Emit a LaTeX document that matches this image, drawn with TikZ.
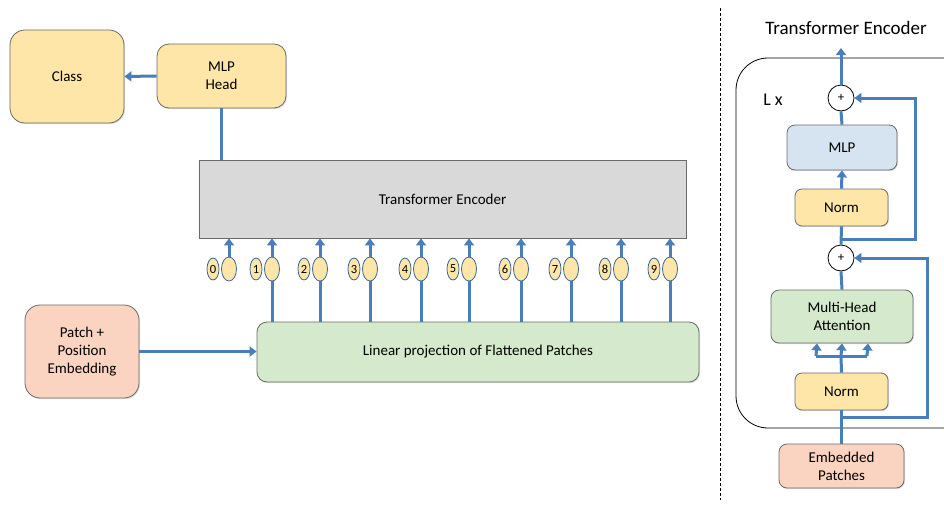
\documentclass[tikz,border=0pt]{standalone}
\usepackage{fontspec}
\setmainfont{Carlito}
\usetikzlibrary{arrows.meta,calc,positioning,shapes.geometric,shadows}

\definecolor{vityellow}{RGB}{253,230,168}
\definecolor{vitgreen}{RGB}{213,234,205}
\definecolor{vitsalmon}{RGB}{251,212,193}
\definecolor{vitgray}{RGB}{217,217,217}
\definecolor{vitblue}{RGB}{214,228,242}
\definecolor{vitline}{RGB}{105,105,105}
\definecolor{vitarrow}{RGB}{74,126,187}

\begin{document}
\begin{tikzpicture}[x=1pt,y=-1pt,
    every node/.style={font=\fontsize{15}{18}\selectfont, align=center, inner sep=0pt},
    box/.style={draw=vitline, line width=0.8pt, rounded corners=9pt,
        drop shadow={opacity=0.25, shadow xshift=1pt, shadow yshift=-1.2pt}},
    link/.style={draw=vitarrow, line width=3pt},
    flow/.style={link, -{Triangle[length=7pt,width=10pt]}},
    tok/.style={ellipse, draw=vitarrow!80!black, line width=0.8pt, fill=vityellow},
    tokbig/.style={tok, minimum width=15pt, minimum height=24pt},
    toksmall/.style={tok, minimum width=12pt, minimum height=22pt, font=\fontsize{12.5}{13}\selectfont},
    plusnode/.style={circle, draw, line width=0.8pt, fill=white, minimum size=26pt, font=\fontsize{13}{14}\selectfont}]
    \useasboundingbox (0,0) rectangle (944,506);

    % left part: the whole model
    \node[box, fill=vityellow, rounded corners=15pt, minimum width=114pt, minimum height=93pt] (class) at (67,76.5) {Class};
    \node[box, fill=vityellow, rounded corners=12pt, minimum width=129pt, minimum height=64pt] (head) at (221.5,76) {MLP\\Head};
    \node[box, fill=vitgray, rounded corners=0pt, minimum width=487pt, minimum height=78pt] (enc) at (442.5,199) {Transformer Encoder};
    \node[box, fill=vitgreen, rounded corners=10pt, minimum width=442pt, minimum height=60pt] (lin) at (478,352) {Linear projection of Flattened Patches};
    \node[box, fill=vitsalmon, rounded corners=15pt, minimum width=114pt, minimum height=93pt] (patch) at (82,351.5) {Patch +\\Position\\Embedding};

    \draw[flow] (head.west) -- (class.east);
    \draw[link] (head.south) -- (head.south |- enc.north);
    \draw[flow] (patch.east) -- (patch.east -| lin.west);

    % patch tokens
    \foreach \x [count=\i from 0] in {229,272,320,370,421,469,521,571,621,670} {
        \node[tokbig] (t\i) at (\x,269) {};
        \node[toksmall] (n\i) at (\x-16,269) {\i};
        \draw[flow] (t\i.north) -- (t\i.north |- enc.south);
    }
    \foreach \i in {1,...,9}
        \draw[link] (t\i.south |- lin.north) -- (t\i.south);

    \draw[dash pattern=on 3pt off 2pt, line width=0.6pt] (720,8) -- (720,500);

    % right part: one encoder layer
    \node[font=\fontsize{19}{22}\selectfont] (title) at (846,28) {Transformer Encoder};
    \node[draw, line width=0.8pt, rounded corners=32pt, minimum width=240pt, minimum height=370pt] (layer) at (856,243) {};
    \node[font=\fontsize{18}{20}\selectfont] (lx) at (773,100) {L x};

    \node[plusnode] (p1) at (841,98) {+};
    \node[box, fill=vitblue, rounded corners=8pt, minimum width=110pt, minimum height=45pt] (mlp) at (842,147.5) {MLP};
    \node[box, fill=vityellow, rounded corners=7pt, minimum width=93pt, minimum height=37pt] (nt) at (841.5,207.5) {Norm};
    \node[plusnode] (p2) at (841,258) {+};
    \node[box, fill=vitgreen, rounded corners=8pt, minimum width=142pt, minimum height=53pt] (mha) at (842,316.5) {Multi-Head\\Attention};
    \node[box, fill=vityellow, rounded corners=7pt, minimum width=93pt, minimum height=37pt] (nb) at (841.5,391.5) {Norm};
    \node[box, fill=vitsalmon, rounded corners=8pt, minimum width=125pt, minimum height=44pt] (emb) at (841.5,466) {Embedded\\Patches};

    \coordinate (br1) at (841,417);
    \coordinate (fork) at (841,356);
    \coordinate (br2) at (841,239);
    \coordinate (out) at (841,48);

    \draw[link] (emb.north) -- (nb.south);
    \draw[flow] (br1) -- ++(86,0) |- (p2.east);
    \draw[link] (nb.north) -- (fork);
    \draw[link] ($(fork)+(-25,0)$) -- ($(fork)+(26,0)$);
    \foreach \dx in {-25,0,26}
        \draw[flow] ($(fork)+(\dx,0)$) -- ($(mha.south)+(\dx,0)$);
    \draw[link] (mha.north) -- (p2.south);
    \draw[link] (p2.north) -- (nt.south);
    \draw[flow] (br2) -- ++(74,0) |- (p1.east);
    \draw[flow] (nt.north) -- (mlp.south);
    \draw[link] (mlp.north) -- (p1.south);
    \draw[flow] (p1.north) -- (out);
\end{tikzpicture}
\end{document}
